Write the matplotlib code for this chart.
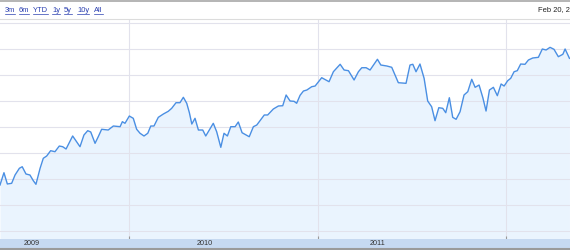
import matplotlib
matplotlib.use("Agg")
import matplotlib.pyplot as plt
from matplotlib.lines import Line2D

# weekly-ish closes, x in decimal years
dates = [
    2009.313, 2009.334, 2009.352, 2009.375, 2009.393, 2009.416, 2009.431, 2009.451,
    2009.472, 2009.490, 2009.504, 2009.526, 2009.543, 2009.561, 2009.582, 2009.605,
    2009.628, 2009.646, 2009.664, 2009.699, 2009.738, 2009.759, 2009.779, 2009.795,
    2009.818, 2009.835, 2009.853, 2009.888, 2009.915, 2009.951, 2009.963, 2009.977,
    2010.000, 2010.021, 2010.039, 2010.057, 2010.078, 2010.098, 2010.114, 2010.131,
    2010.154, 2010.181, 2010.207, 2010.225, 2010.248, 2010.269, 2010.287, 2010.305,
    2010.319, 2010.332, 2010.349, 2010.367, 2010.390, 2010.406, 2010.446, 2010.464,
    2010.486, 2010.503, 2010.521, 2010.539, 2010.562, 2010.579, 2010.599, 2010.637,
    2010.659, 2010.677, 2010.717, 2010.735, 2010.765, 2010.792, 2010.815, 2010.833,
    2010.854, 2010.875, 2010.889, 2010.907, 2010.925, 2010.943, 2010.969, 2010.987,
    2011.022, 2011.044, 2011.061, 2011.084, 2011.120, 2011.141, 2011.164, 2011.194,
    2011.217, 2011.235, 2011.258, 2011.279, 2011.318, 2011.336, 2011.368, 2011.394,
    2011.429, 2011.470, 2011.491, 2011.506, 2011.523, 2011.544, 2011.566, 2011.585,
    2011.606, 2011.624, 2011.644, 2011.665, 2011.681, 2011.700, 2011.718, 2011.736,
    2011.757, 2011.778, 2011.798, 2011.819, 2011.837, 2011.858, 2011.878, 2011.895,
    2011.913, 2011.934, 2011.955, 2011.975, 2011.991, 2012.010, 2012.026, 2012.044,
    2012.061, 2012.079, 2012.102, 2012.120, 2012.143, 2012.173, 2012.194, 2012.214,
    2012.235, 2012.256, 2012.279, 2012.303, 2012.315, 2012.338,
]
prices = [
    28.90, 31.27, 29.10, 29.23, 30.83, 32.12, 32.42, 31.02,
    30.83, 29.73, 29.04, 32.12, 34.04, 34.48, 35.50, 35.31,
    36.40, 36.27, 35.83, 38.33, 36.27, 38.52, 39.35, 39.10,
    36.92, 38.19, 39.62, 39.48, 40.25, 40.12, 41.08, 40.77,
    42.17, 41.73, 39.62, 38.85, 38.33, 38.85, 40.25, 40.25,
    41.92, 42.56, 43.08, 43.65, 44.73, 44.73, 45.77, 44.62,
    42.81, 40.63, 41.73, 39.48, 39.48, 38.33, 40.77, 39.15,
    36.15, 38.85, 38.33, 40.12, 40.12, 41.02, 38.96, 38.19,
    40.12, 40.44, 42.37, 42.37, 43.52, 44.10, 44.15, 46.21,
    45.06, 45.00, 44.62, 46.15, 46.98, 47.17, 47.81, 47.94,
    49.54, 49.10, 48.77, 50.69, 52.12, 51.02, 50.89, 49.10,
    50.69, 51.46, 51.46, 51.02, 53.08, 51.98, 51.79, 51.54,
    48.58, 48.46, 51.98, 52.12, 50.69, 52.17, 49.42, 45.06,
    43.96, 41.27, 43.77, 43.65, 42.81, 45.69, 41.92, 41.54,
    43.00, 46.21, 46.85, 49.23, 47.69, 48.13, 45.69, 43.13,
    47.17, 47.69, 46.08, 48.33, 47.94, 48.96, 49.42, 50.69,
    50.89, 52.17, 52.12, 52.94, 53.33, 53.46, 55.06, 54.87,
    55.38, 55.00, 53.58, 54.04, 55.06, 53.27,
]
year_ticks = [2010, 2011, 2012]
year_labels = ["2009", "2010", "2011"]
year_label_pos = [2009.483, 2010.402, 2011.321]
zoom_links = ["3m", "6m", "YTD", "1y", "5y", "10y", "All"]
link_x = [5, 19, 33, 52, 64, 77, 94]
date_text = "Feb 20, 2012"

plt.rcParams["font.family"] = ["Liberation Sans", "DejaVu Sans"]
W, H = 570, 250
fig = plt.figure(figsize=(W / 100, H / 100), dpi=100)

x0, x1 = 2009.313, 2012.341
ax = fig.add_axes([0, (H - 239) / H, 1, 220 / H])
ax.fill_between(dates, prices, 18.0, color="#eaf4fe", lw=0, zorder=1)
ax.plot(dates, prices, color="#4a8fe3", lw=1.0, zorder=3)
ax.set_xlim(x0, x1)
ax.set_ylim(18.52, 60.83)
ax.set_yticks(range(20, 61, 5))
ax.set_xticks(year_ticks)
ax.grid(True, color="#e2e2ec", lw=0.8)
ax.set_axisbelow("line")
ax.tick_params(axis="x", direction="in", length=2.5, width=0.8, color="#999999",
               labelbottom=False)
ax.tick_params(axis="y", length=0, labelleft=False)
for s in ax.spines.values():
    s.set_visible(False)

# year band at the bottom
bar = fig.add_axes([0, 2 / H, 1, 9 / H])
bar.set_facecolor("#c6d9f1")
bar.set_xlim(x0, x1)
bar.set_ylim(0, 1)
bar.set_xticks([])
bar.set_yticks([])
for s in bar.spines.values():
    s.set_visible(False)
for lab, pos in zip(year_labels, year_label_pos):
    bar.text(pos, 0.5, lab, ha="center", va="center", fontsize=5.2, color="#333333")

# frame lines
fig.add_artist(Line2D([0, 1], [1 / H, 1 / H], color="#9a9a9a", lw=1.5))
fig.add_artist(Line2D([0, 1], [(H - 1) / H, (H - 1) / H], color="#a8a8a8", lw=1.2))
fig.add_artist(Line2D([0, 1], [(H - 19) / H, (H - 19) / H], color="#dcdcdc", lw=0.8))

# zoom links
texts = []
for lab, lx in zip(zoom_links, link_x):
    t = fig.text(lx / W, (H - 10) / H, lab, fontsize=5.4, color="#2a3fb0",
                 ha="left", va="center")
    texts.append(t)
fig.text(538 / W, (H - 10) / H, date_text, fontsize=5.4, color="#222222",
         ha="left", va="center")

fig.canvas.draw()
r = fig.canvas.get_renderer()
for t in texts:
    bb = t.get_window_extent(r)
    yy = (bb.y0 - 0.5) / H
    fig.add_artist(Line2D([bb.x0 / W, bb.x1 / W], [yy, yy], color="#2a3fb0", lw=0.5))

fig.savefig("out.png", dpi=100)
